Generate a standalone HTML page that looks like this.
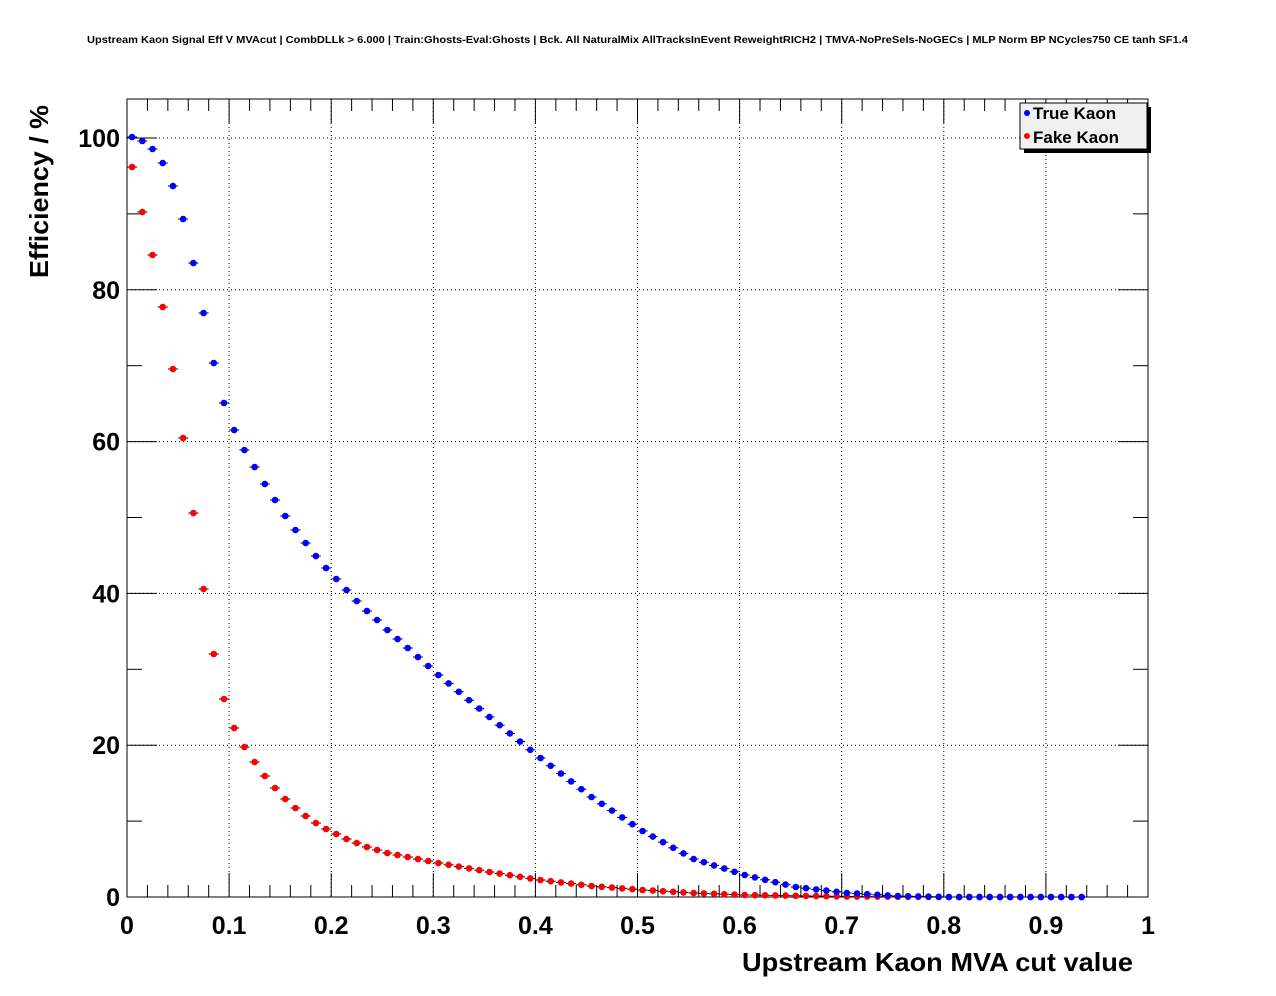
<!DOCTYPE html>
<html><head><meta charset="utf-8"><style>
html,body{margin:0;padding:0;background:#fff;}
svg{display:block;font-family:"Liberation Sans",sans-serif;}
</style></head><body>
<svg id="s" width="1276" height="996" xmlns="http://www.w3.org/2000/svg">
<rect width="1276" height="996" fill="#fff"/>
<text x="87" y="43" font-size="10.5" font-weight="bold" textLength="1101" lengthAdjust="spacingAndGlyphs">Upstream Kaon Signal Eff V MVAcut | CombDLLk &gt; 6.000 | Train:Ghosts-Eval:Ghosts | Bck. All NaturalMix AllTracksInEvent ReweightRICH2 | TMVA-NoPreSels-NoGECs | MLP Norm BP NCycles750 CE tanh SF1.4</text>
<g id="grid" stroke="#000" stroke-width="1" stroke-dasharray="1,3" fill="none"></g>
<rect x="127" y="99" width="1021" height="798" fill="none" stroke="#000" stroke-width="1"/>
<g id="ticks" stroke="#000" stroke-width="1"></g>
<g id="lab" font-size="25" font-weight="bold"></g>
<text x="742" y="971" font-size="26" font-weight="bold" textLength="391" lengthAdjust="spacingAndGlyphs">Upstream Kaon MVA cut value</text>
<text transform="translate(48,278) rotate(-90)" font-size="26" font-weight="bold" textLength="173" lengthAdjust="spacingAndGlyphs">Efficiency / %</text>
<g id="pts"></g>
<rect x="1024" y="107" width="127" height="46" fill="#000"/>
<rect x="1020" y="103" width="127" height="46" fill="#f0f0f0" stroke="#000"/>
<circle cx="1027" cy="113" r="3" fill="#00f"/>
<text x="1033" y="119" font-size="17" font-weight="bold">True Kaon</text>
<circle cx="1027" cy="136" r="3" fill="#f00"/>
<text x="1033" y="143" font-size="17" font-weight="bold">Fake Kaon</text>
</svg>
<script>
var X0=127,X1=1148,Y0=897,Y1=138;
function px(x){return X0+(X1-X0)*x;}
function py(v){return Y0-(Y0-Y1)*v/100;}
var ns="http://www.w3.org/2000/svg";
function el(p,t,a){var e=document.createElementNS(ns,t);for(var k in a)e.setAttribute(k,a[k]);document.getElementById(p).appendChild(e);return e;}
for(var i=1;i<10;i++){var x=px(i/10);el("grid","line",{x1:x,x2:x,y1:99,y2:897});}
for(var v=20;v<=100;v+=20){el("grid","line",{x1:127,x2:1148,y1:py(v),y2:py(v)});}
for(var i=0;i<=50;i++){var x=px(i/50),L=(i%5==0)?24:12;el("ticks","line",{x1:x,x2:x,y1:897,y2:897-L});el("ticks","line",{x1:x,x2:x,y1:99,y2:99+L});}
for(var v=0;v<=100;v+=10){var y=py(v),L=(v%20==0)?30:15;el("ticks","line",{x1:127,x2:127+L,y1:y,y2:y});el("ticks","line",{x1:1148,x2:1148-L,y1:y,y2:y});}
var xl=["0","0.1","0.2","0.3","0.4","0.5","0.6","0.7","0.8","0.9","1"];
for(var i=0;i<=10;i++){var t=el("lab","text",{x:px(i/10),y:934,"text-anchor":"middle"});t.textContent=xl[i];}
for(var v=0;v<=100;v+=20){var t=el("lab","text",{x:120,y:py(v)+9,"text-anchor":"end"});t.textContent=v;}
var B=[[0.005,137],[0.015,141],[0.025,149],[0.035,163],[0.045,186],[0.055,219],[0.065,263],[0.075,313],[0.085,363],[0.095,403],[0.105,430],[0.115,450],[0.125,467],[0.135,484],[0.145,500],[0.155,516],[0.165,530],[0.175,543],[0.185,556],[0.195,568],[0.205,579],[0.215,590],[0.225,601],[0.235,611],[0.245,620],[0.255,630],[0.305,675],[0.355,717],[0.405,758],[0.455,797],[0.505,831],[0.555,859],[0.605,875],[0.655,887],[0.705,893],[0.755,896],[0.805,897],[0.94,897]];
var R=[[0.005,167],[0.015,212],[0.025,255],[0.035,307],[0.045,369],[0.055,438],[0.065,513],[0.075,589],[0.085,654],[0.095,699],[0.105,728],[0.115,747],[0.125,762],[0.135,776],[0.145,788],[0.155,799],[0.165,808],[0.175,816],[0.185,823],[0.195,829],[0.205,834],[0.215,839],[0.225,843],[0.235,847],[0.255,853],[0.305,863],[0.355,872],[0.405,880],[0.455,886],[0.505,890],[0.555,893],[0.605,895],[0.705,896.5],[0.805,897],[0.94,897]];
function interp(D,x){for(var i=0;i<D.length-1;i++){if(x<=D[i+1][0]+1e-9){var a=D[i],b=D[i+1];return a[1]+(b[1]-a[1])*(x-a[0])/(b[0]-a[0]);}}return D[D.length-1][1];}
function draw(D,c){for(var i=0;i<94;i++){var x=0.005+0.01*i;var cx=px(x),cy=interp(D,x);el("pts","line",{x1:cx-5,x2:cx+5,y1:cy,y2:cy,stroke:"#000","stroke-width":1});el("pts","circle",{cx:cx,cy:cy,r:3.3,fill:c});}}
draw(R,"#f00");draw(B,"#00f");
</script>
</body></html>
